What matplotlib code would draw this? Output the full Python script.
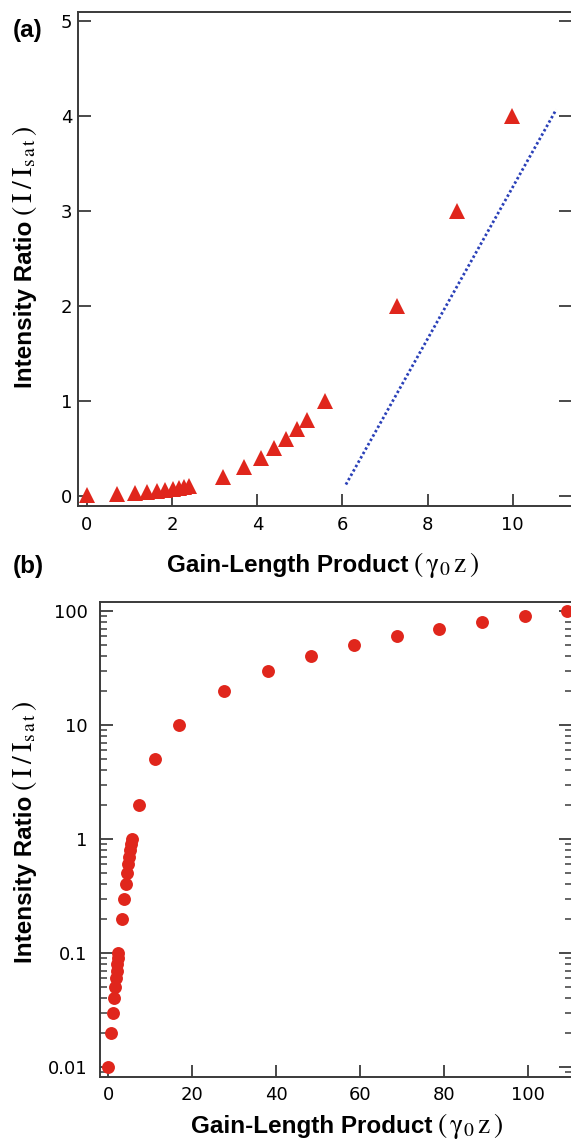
import matplotlib
matplotlib.use("Agg")
import matplotlib.pyplot as plt
from matplotlib.ticker import LogLocator, NullFormatter, FixedLocator, FixedFormatter

# ---------------- data ----------------
# Panel (a): linear scale, triangles
gain_a = [0.0, 0.70, 1.12, 1.42, 1.65, 1.84, 2.01, 2.15, 2.28, 2.39,
          3.19, 3.69, 4.08, 4.40, 4.68, 4.94, 5.17, 5.60, 7.29, 8.70, 9.98]
ratio_a = [0.01, 0.02, 0.03, 0.04, 0.05, 0.06, 0.07, 0.08, 0.09, 0.10,
           0.2, 0.3, 0.4, 0.5, 0.6, 0.7, 0.8, 1.0, 2.0, 3.0, 4.0]
# Panel (a): dotted reference line end points
line_x = [6.08, 11.02]
line_y = [0.12, 4.07]

# Panel (b): log scale, circles
gain_b = [0.0, 0.70, 1.12, 1.42, 1.65, 1.84, 2.01, 2.15, 2.28, 2.39,
          3.19, 3.69, 4.08, 4.40, 4.68, 4.94, 5.17, 5.39, 5.60, 7.29,
          11.2, 16.9, 27.6, 38.0, 48.3, 58.5, 68.7, 78.8, 89.0, 99.1, 109.2]
ratio_b = [0.01, 0.02, 0.03, 0.04, 0.05, 0.06, 0.07, 0.08, 0.09, 0.10,
           0.2, 0.3, 0.4, 0.5, 0.6, 0.7, 0.8, 0.9, 1.0, 2.0,
           5, 10, 20, 30, 40, 50, 60, 70, 80, 90, 100]

xticks_a = [0, 2, 4, 6, 8, 10]
yticks_a = [0, 1, 2, 3, 4, 5]
xticks_b = [0, 20, 40, 60, 80, 100]
yticks_b = [0.01, 0.1, 1, 10, 100]
yticklabels_b = ["0.01", "0.1", "1", "10", "100"]

x_bold = "Gain-Length Product"
x_serif = r"$(\,\mathrm{\gamma_0}\,\mathrm{z}\,)$"
y_bold = "Intensity Ratio"
y_serif = r"$(\:\mathrm{I}\:/\:\mathrm{I}_{\mathrm{s\,a\,t}}\,)$"

RED = "#e0261c"
BLUE = "#2a40b8"
SPINE = "#3a3a3a"

plt.rcParams["font.family"] = ["DejaVu Sans"]
plt.rcParams["mathtext.fontset"] = "stix"

W, H = 571, 1139
fig = plt.figure(figsize=(W / 100, H / 100), dpi=100)
renderer = fig.canvas.get_renderer()

BOLD_FAMILY = ["Liberation Sans", "DejaVu Sans"]
BOLD_SIZE = 17.5
SERIF_X = 20
SERIF_Y = 20
GAP = 4  # px between sans and serif parts


def style(ax, ypad):
    for s in ax.spines.values():
        s.set_color(SPINE)
        s.set_linewidth(1.4)
    ax.spines["right"].set_visible(False)
    ax.tick_params(axis="x", which="both", direction="in", bottom=True, top=False,
                   length=9, width=1.3, color=SPINE, labelsize=13, pad=7)
    ax.tick_params(axis="y", which="major", direction="in", left=True, right=True,
                   length=9.5, width=1.3, color=SPINE, labelsize=13, pad=ypad)
    ax.tick_params(axis="y", which="minor", direction="in", left=True, right=True,
                   length=5, width=1.1, color=SPINE)


def hlabel(cx, base_y):
    """Horizontal two-part label centred at cx (px), baseline at base_y (px from top)."""
    t1 = fig.text(0, 0, x_bold, fontsize=BOLD_SIZE, fontweight="bold",
                  family=BOLD_FAMILY, ha="left", va="baseline")
    t2 = fig.text(0, 0, x_serif, fontsize=SERIF_X, ha="left", va="baseline")
    w1 = t1.get_window_extent(renderer).width
    w2 = t2.get_window_extent(renderer).width
    total = w1 + GAP + w2
    x0 = cx - total / 2
    yf = 1 - base_y / H
    t1.set_position((x0 / W, yf))
    t2.set_position(((x0 + w1 + GAP) / W, yf))


def vlabel(base_x, cy):
    """Vertical two-part label, baseline at base_x (px), centred at cy (px from top)."""
    t1 = fig.text(0, 0, y_bold, fontsize=BOLD_SIZE, fontweight="bold", rotation=90,
                  family=BOLD_FAMILY, rotation_mode="anchor", ha="left", va="baseline")
    t2 = fig.text(0, 0, y_serif, fontsize=SERIF_Y, rotation=90,
                  rotation_mode="anchor", ha="left", va="baseline")
    h1 = t1.get_window_extent(renderer).height
    h2 = t2.get_window_extent(renderer).height
    total = h1 + GAP + h2
    y_start = (H - cy) - total / 2  # display px from bottom
    t1.set_position((base_x / W, y_start / H))
    t2.set_position((base_x / W, (y_start + h1 + GAP) / H))


# ---------------- panel (a) ----------------
axa = fig.add_axes([78 / W, 1 - 506 / H, 494 / W, 494.3 / H])
axa.plot(gain_a, ratio_a, linestyle="none", marker="^", ms=12,
         color=RED, markeredgewidth=0, clip_on=False)
axa.plot(line_x, line_y, linestyle=(0, (0.9, 0.9)), lw=2.0, color=BLUE)
axa.set_xlim(-0.211, 11.39)
axa.set_ylim(-0.106, 5.1)
axa.set_xticks(xticks_a)
axa.set_yticks(yticks_a)
style(axa, 4)

# ---------------- panel (b) ----------------
axb = fig.add_axes([100 / W, 1 - 1076.7 / H, 472 / W, 475 / H])
axb.plot(gain_b, ratio_b, linestyle="none", marker="o", ms=9.3,
         color=RED, markeredgewidth=0, clip_on=False)
axb.set_yscale("log")
axb.set_xlim(-2.0, 110.4)
axb.set_ylim(0.0082, 120.7)
axb.set_xticks(xticks_b)
axb.yaxis.set_major_locator(FixedLocator(yticks_b))
axb.yaxis.set_major_formatter(FixedFormatter(yticklabels_b))
axb.yaxis.set_minor_locator(LogLocator(base=10, subs=range(2, 10), numticks=20))
axb.yaxis.set_minor_formatter(NullFormatter())
style(axb, 9)

# axis labels (sans bold + serif part)
hlabel(323, 572)
hlabel(347, 1133)
vlabel(32, 257)
vlabel(32, 832)

# panel letters
fig.text(13 / W, 1 - 30 / H, "(a)", fontsize=BOLD_SIZE, fontweight="bold",
         family=BOLD_FAMILY, va="center", ha="left")
fig.text(13 / W, 1 - 567 / H, "(b)", fontsize=BOLD_SIZE, fontweight="bold",
         family=BOLD_FAMILY, va="center", ha="left")

fig.savefig("out.png", dpi=100)
